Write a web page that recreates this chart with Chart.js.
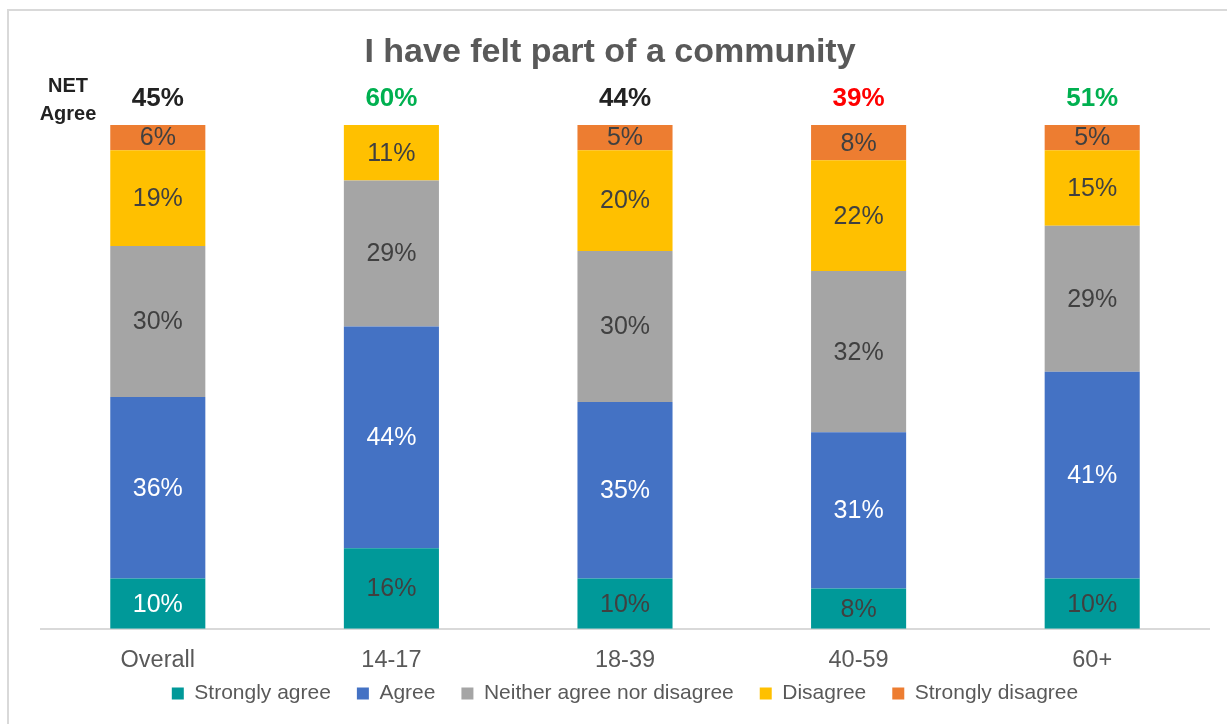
<!DOCTYPE html>
<html>
<head>
<meta charset="utf-8">
<script src="https://cdn.jsdelivr.net/npm/chart.js@4.4.1/dist/chart.umd.min.js"></script>
<style>
  html, body { margin: 0; padding: 0; background: #ffffff; }
  #wrap { position: relative; width: 1227px; height: 724px; }
  #frame { position: absolute; left: 7px; top: 9px; right: -4px; bottom: -4px;
           border-left: 2px solid #d9d9d9; border-top: 2px solid #d9d9d9; }
  #c { position: absolute; left: 0; top: 0; }
</style>
</head>
<body>
<div id="wrap">
  <div id="frame"></div>
  <canvas id="c" width="1227" height="724"></canvas>
</div>
<script>
// Survey: "I have felt part of a community", share of respondents (%) by age group
const categories = ['Overall', '14-17', '18-39', '40-59', '60+'];
const stronglyAgree    = [10, 16, 10, 8, 10];
const agree            = [36, 44, 35, 31, 41];
const neither          = [30, 29, 30, 32, 29];
const disagree         = [19, 11, 20, 22, 15];
const stronglyDisagree = [6, null, 5, 8, 5];
const netAgree         = [45, 60, 44, 39, 51];
const netAgreeColors   = ['#222222', '#00b050', '#222222', '#ff0000', '#00b050'];

const FONT = '"Liberation Sans", Arial, Helvetica, sans-serif';

// Segment label colour per series (first series: white on the Overall bar only)
const labelColor = (dsIndex, i) => {
  if (dsIndex === 1) return '#ffffff';
  if (dsIndex === 0 && i === 0) return '#ffffff';
  return '#404040';
};

// Percent labels centred in the visible part of every segment
const segmentLabels = {
  id: 'segmentLabels',
  afterDatasetsDraw(chart) {
    const { ctx, chartArea } = chart;
    ctx.save();
    ctx.font = '25px ' + FONT;
    ctx.textAlign = 'center';
    ctx.textBaseline = 'middle';
    chart.data.datasets.forEach((ds, di) => {
      const meta = chart.getDatasetMeta(di);
      meta.data.forEach((bar, i) => {
        const v = ds.data[i];
        if (v === null || v === undefined) return;
        const top = Math.max(Math.min(bar.y, bar.base), chartArea.top);
        const bottom = Math.min(Math.max(bar.y, bar.base), chartArea.bottom);
        ctx.fillStyle = labelColor(di, i);
        ctx.fillText(v + '%', bar.x, (top + bottom) / 2 + 1);
      });
    });
    ctx.restore();
  }
};

// NET Agree figures above each bar plus the row caption on the left
const netLabels = {
  id: 'netLabels',
  afterDraw(chart) {
    const { ctx, chartArea } = chart;
    const meta = chart.getDatasetMeta(0);
    ctx.save();
    ctx.textAlign = 'center';
    ctx.textBaseline = 'middle';
    ctx.font = 'bold 26px ' + FONT;
    netAgree.forEach((v, i) => {
      ctx.fillStyle = netAgreeColors[i];
      ctx.fillText(v + '%', meta.data[i].x, chartArea.top - 26);
    });
    ctx.font = 'bold 20px ' + FONT;
    ctx.fillStyle = '#222222';
    ctx.fillText('NET', 68, chartArea.top - 39);
    ctx.fillText('Agree', 68, chartArea.top - 11);
    ctx.restore();
  }
};

// Pull the legend row up towards the category labels; set the title a bit left of centre
const boxNudge = {
  id: 'boxNudge',
  afterLayout(chart) {
    if (chart.legend) {
      chart.legend.top -= 36;
      chart.legend.bottom -= 36;
    }
    if (chart.titleBlock) {
      chart.titleBlock.left -= 15;
      chart.titleBlock.right -= 15;
    }
  }
};

const mk = (label, data, color) => ({
  label, data, backgroundColor: color, borderWidth: 0,
  categoryPercentage: 1.0, barPercentage: 0.407
});

new Chart(document.getElementById('c'), {
  type: 'bar',
  data: {
    labels: categories,
    datasets: [
      mk('Strongly agree', stronglyAgree, '#009999'),
      mk('Agree', agree, '#4472c4'),
      mk('Neither agree nor disagree', neither, '#a5a5a5'),
      mk('Disagree', disagree, '#ffc000'),
      mk('Strongly disagree', stronglyDisagree, '#ed7d31')
    ]
  },
  options: {
    responsive: false,
    animation: false,
    layout: { padding: { left: 41, right: 18, top: 0, bottom: -26 } },
    scales: {
      x: {
        stacked: true,
        grid: { display: false, drawTicks: false },
        border: { display: true, color: '#d9d9d9', width: 2 },
        ticks: { color: '#595959', font: { family: FONT, size: 23.5 }, padding: 18 }
      },
      y: {
        stacked: true, display: false, min: 0, max: 100
      }
    },
    plugins: {
      title: {
        display: true,
        text: 'I have felt part of a community',
        color: '#595959',
        font: { family: FONT, size: 34, weight: 'bold' },
        padding: { top: 32, bottom: 52.2 }
      },
      legend: {
        position: 'bottom',
        labels: {
          color: '#595959',
          font: { family: FONT, size: 21 },
          boxWidth: 12, boxHeight: 12, padding: 26
        }
      },
      tooltip: { enabled: false }
    }
  },
  plugins: [segmentLabels, netLabels, boxNudge]
});
</script>
</body>
</html>
